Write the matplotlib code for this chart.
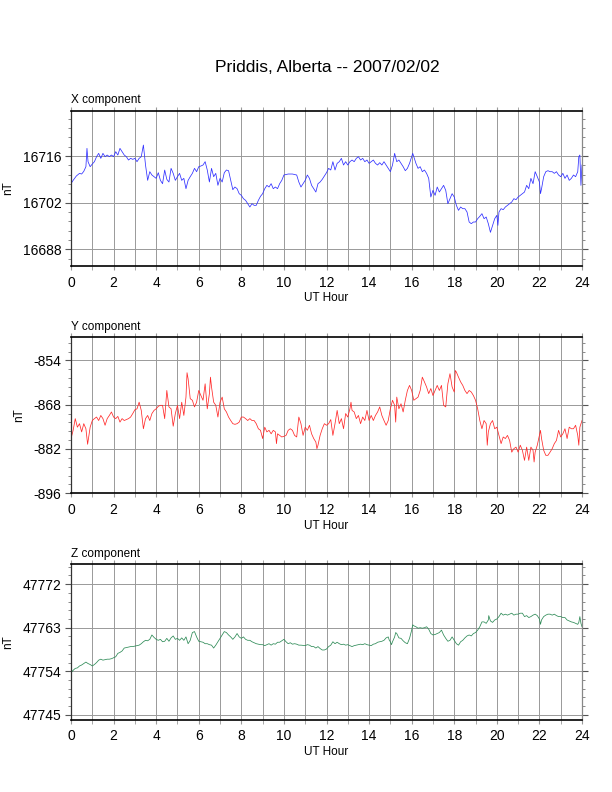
import matplotlib
matplotlib.use("Agg")
import matplotlib.pyplot as plt
from matplotlib.ticker import MultipleLocator, FixedLocator, AutoMinorLocator

plt.rcParams['font.family'] = ['Liberation Sans', 'DejaVu Sans']
plt.rcParams['axes.unicode_minus'] = False

title = "Priddis, Alberta -- 2007/02/02"

x_hours = [0, 0.1, 0.25, 0.4, 0.5, 0.6, 0.7, 0.75, 0.8, 0.9, 1.0, 1.1, 1.2, 1.3, 1.4, 1.5, 1.6, 1.7, 1.8, 1.9,
           2.0, 2.1, 2.2, 2.3, 2.4, 2.5, 2.6, 2.7, 2.8, 2.9, 3.0, 3.1, 3.2, 3.3, 3.4, 3.5, 3.6, 3.7, 3.8, 3.9,
           4.0, 4.1, 4.2, 4.3, 4.4, 4.5, 4.6, 4.7, 4.8, 4.9, 5.0, 5.1, 5.2, 5.3, 5.4, 5.5, 5.6, 5.7, 5.8, 5.9,
           6.0, 6.1, 6.2, 6.3, 6.4, 6.5, 6.6, 6.7, 6.8, 6.9, 7.0, 7.1, 7.2, 7.3, 7.4, 7.5, 7.6, 7.7, 7.8, 7.9,
           8.0, 8.1, 8.2, 8.3, 8.4, 8.5, 8.6, 8.7, 8.8, 8.9, 9.0, 9.1, 9.2, 9.3, 9.4, 9.5, 9.6, 9.7, 9.8, 9.9,
           10.0, 10.2, 10.4, 10.6, 10.7, 10.8, 11.0, 11.1, 11.2, 11.3, 11.4, 11.5, 11.6, 11.7, 11.8, 11.9,
           12.0, 12.1, 12.2, 12.3, 12.4, 12.5, 12.6, 12.7, 12.8, 12.9, 13.0, 13.1, 13.2, 13.3, 13.4, 13.5, 13.6, 13.7, 13.8, 13.9,
           14.0, 14.1, 14.2, 14.3, 14.4, 14.5, 14.6, 14.7, 14.8, 14.9, 15.0, 15.1, 15.2, 15.3, 15.4, 15.5, 15.6, 15.7, 15.8, 15.9,
           16.0, 16.05, 16.2, 16.3, 16.4, 16.5, 16.6, 16.7, 16.8, 16.9, 17.0, 17.1, 17.2, 17.3, 17.4, 17.5, 17.6, 17.7, 17.8, 17.9,
           18.0, 18.1, 18.2, 18.3, 18.4, 18.5, 18.6, 18.7, 18.8, 18.9, 19.0, 19.1, 19.2, 19.3, 19.4, 19.5, 19.6, 19.7, 19.8, 19.9,
           20.0, 20.05, 20.1, 20.2, 20.3, 20.4, 20.5, 20.6, 20.7, 20.8, 20.9, 21.0, 21.1, 21.2, 21.3, 21.4, 21.5, 21.6, 21.7, 21.8, 21.9,
           22.0, 22.05, 22.1, 22.2, 22.3, 22.4, 22.5, 22.6, 22.7, 22.8, 22.9, 23.0, 23.1, 23.2, 23.3, 23.4, 23.5, 23.6, 23.7, 23.8,
           23.85, 23.9, 23.95, 24.0]
x_values = [16707.7, 16708.7, 16710.0, 16710.8, 16710.6, 16711.4, 16712.8, 16718.3, 16714.3, 16712.8, 16713.6, 16714.3,
            16715.8, 16716.8, 16715.3, 16716.8, 16715.8, 16716.3, 16715.8, 16716.3,
            16715.8, 16717.3, 16716.3, 16718.3, 16717.3, 16716.3, 16715.8, 16714.8, 16715.3, 16715.0,
            16715.3, 16714.3, 16715.3, 16715.8, 16719.3, 16713.3, 16708.7, 16711.3, 16710.3, 16709.8,
            16709.3, 16711.0, 16708.7, 16707.7, 16711.8, 16709.0, 16708.2, 16712.3, 16710.8, 16708.7,
            16709.8, 16710.8, 16708.7, 16709.3, 16706.2, 16708.7, 16709.8, 16710.8, 16712.3, 16711.3,
            16712.8, 16713.0, 16713.3, 16714.3, 16711.8, 16708.2, 16712.3, 16709.8, 16710.8, 16707.2,
            16709.3, 16708.2, 16711.0, 16711.8, 16711.6, 16708.7, 16705.9, 16706.7, 16706.2, 16704.7,
            16704.2, 16703.2, 16702.7, 16701.7, 16700.7, 16701.7, 16701.2, 16701.2, 16702.7, 16703.9,
            16704.7, 16706.2, 16707.2, 16706.7, 16707.7, 16706.2, 16706.7, 16706.2, 16707.7, 16708.7,
            16710.3, 16710.6, 16710.6, 16710.3, 16708.2, 16706.7, 16708.7, 16710.3, 16709.3, 16707.2, 16706.2, 16705.2,
            16707.7, 16708.2, 16709.0, 16710.0,
            16711.0, 16712.3, 16711.8, 16714.3, 16711.8, 16713.8, 16714.3, 16715.3, 16713.3, 16714.3,
            16713.3, 16714.3, 16714.8, 16714.3, 16715.3, 16715.8, 16714.8, 16715.3, 16714.3, 16714.8,
            16713.8, 16714.3, 16714.8, 16713.8, 16713.3, 16714.0, 16713.3, 16714.3, 16713.3, 16712.3,
            16711.3, 16713.3, 16716.8, 16714.3, 16714.8, 16713.8, 16712.8, 16711.6, 16712.3, 16713.8,
            16715.8, 16716.8, 16713.8, 16712.3, 16712.8, 16711.3, 16711.8, 16710.8, 16709.3, 16703.7,
            16705.7, 16704.2, 16706.7, 16705.2, 16706.2, 16707.2, 16705.7, 16701.7, 16703.2, 16704.7,
            16703.7, 16701.2, 16699.7, 16700.7, 16700.2, 16700.2, 16699.2, 16696.2, 16695.7, 16696.2,
            16696.2, 16697.2, 16697.9, 16698.7, 16697.2, 16697.7, 16695.7, 16693.1, 16695.2, 16697.2,
            16698.2, 16695.2, 16699.2, 16700.2, 16699.9, 16700.7, 16701.2, 16701.7, 16702.2, 16703.2, 16702.9,
            16703.7, 16704.2, 16704.7, 16705.2, 16707.2, 16706.2, 16709.3, 16707.7, 16711.3, 16709.8,
            16708.2, 16704.7, 16706.2, 16709.8, 16711.3, 16711.6, 16711.3, 16711.3, 16710.8, 16711.3,
            16710.3, 16709.8, 16710.8, 16709.3, 16710.3, 16708.7, 16709.3, 16710.3, 16709.8, 16711.3,
            16715.8, 16716.3, 16707.2, 16713.3]

y_hours = [0, 0.1, 0.2, 0.3, 0.4, 0.5, 0.6, 0.7, 0.78, 0.9, 1.0, 1.1, 1.2, 1.3, 1.4, 1.5, 1.6, 1.7, 1.8, 1.9,
           2.0, 2.1, 2.2, 2.3, 2.4, 2.5, 2.6, 2.7, 2.8, 2.9, 3.0, 3.1, 3.2, 3.3, 3.4, 3.5, 3.6, 3.7, 3.8, 3.9,
           4.0, 4.1, 4.2, 4.3, 4.4, 4.5, 4.6, 4.7, 4.8, 4.9, 5.0, 5.1, 5.2, 5.3, 5.4, 5.45, 5.5, 5.6, 5.7, 5.8, 5.9,
           6.0, 6.1, 6.2, 6.3, 6.4, 6.5, 6.55, 6.6, 6.7, 6.8, 6.9, 7.0, 7.1, 7.2, 7.3, 7.4, 7.5, 7.6, 7.7, 7.8, 7.9,
           8.0, 8.1, 8.2, 8.3, 8.4, 8.5, 8.6, 8.7, 8.8, 8.9, 9.0, 9.1, 9.2, 9.3, 9.4, 9.5, 9.6, 9.65, 9.7, 9.8, 9.9,
           10.0, 10.1, 10.2, 10.3, 10.4, 10.5, 10.6, 10.7, 10.8, 10.9, 11.0, 11.1, 11.2, 11.3, 11.4, 11.5, 11.55, 11.6,
           11.7, 11.8, 11.9, 12.0, 12.1, 12.2, 12.3, 12.4, 12.5, 12.6, 12.7, 12.8, 12.9, 13.0, 13.1, 13.15, 13.2, 13.3,
           13.4, 13.5, 13.6, 13.7, 13.8, 13.9, 14.0, 14.1, 14.2, 14.3, 14.4, 14.5, 14.6, 14.7, 14.8, 14.9,
           15.0, 15.1, 15.2, 15.25, 15.3, 15.4, 15.5, 15.6, 15.7, 15.8, 15.9, 16.0, 16.1, 16.2, 16.3, 16.4, 16.5,
           16.6, 16.7, 16.8, 16.9, 17.0, 17.1, 17.2, 17.3, 17.4, 17.5, 17.6, 17.7, 17.8, 17.9, 18.0, 18.05, 18.1,
           18.2, 18.3, 18.4, 18.5, 18.6, 18.7, 18.8, 18.9, 19.0, 19.1, 19.2, 19.3, 19.4, 19.5, 19.55, 19.6, 19.7,
           19.8, 19.9, 20.0, 20.1, 20.2, 20.3, 20.4, 20.5, 20.6, 20.7, 20.8, 20.9, 21.0, 21.1, 21.2, 21.3, 21.4,
           21.5, 21.6, 21.7, 21.75, 21.8, 21.9, 22.0, 22.05, 22.1, 22.2, 22.3, 22.4, 22.5, 22.6, 22.7, 22.8, 22.9,
           23.0, 23.1, 23.2, 23.3, 23.4, 23.5, 23.6, 23.7, 23.8, 23.85, 23.9, 24.0]
y_values = [-878.7, -876.1, -872.4, -875.1, -874.0, -876.6, -874.0, -875.6, -880.5, -875.1, -873.0, -872.4,
            -871.9, -873.0, -871.4, -872.4, -874.5, -872.4, -871.4, -870.3,
            -871.9, -872.4, -871.7, -873.5, -872.4, -873.0, -872.7, -872.4, -871.9, -870.8,
            -869.6, -869.3, -867.2, -869.8, -875.6, -872.4, -871.4, -873.0, -870.8, -869.8,
            -869.3, -868.5, -868.2, -868.2, -872.4, -863.5, -868.7, -869.3, -874.8, -870.8,
            -868.2, -872.4, -867.2, -871.4, -865.6, -857.9, -859.8, -866.1, -866.6, -868.7, -867.2,
            -863.5, -865.1, -866.6, -861.4, -869.3, -864.5, -859.3, -862.4, -867.2, -868.2, -871.9,
            -867.2, -865.6, -869.3, -870.3, -871.9, -873.0, -874.0, -874.2, -874.0, -873.5,
            -871.9, -871.9, -872.4, -873.0, -872.4, -873.0, -873.0, -874.0, -875.6, -876.1,
            -878.7, -875.1, -876.6, -876.1, -877.2, -876.1, -876.6, -880.3, -877.2, -877.7, -878.2,
            -878.0, -877.7, -876.1, -875.6, -876.1, -877.7, -878.2, -871.9, -874.0, -877.7,
            -875.1, -876.1, -874.5, -877.2, -878.7, -879.8, -881.9, -880.8,
            -877.7, -875.6, -874.0, -874.5, -874.0, -872.7, -877.7, -874.0, -869.8, -874.0,
            -872.4, -875.6, -870.8, -871.9, -869.3, -867.2, -869.8, -870.3,
            -872.4, -871.4, -874.0, -871.9, -873.0, -869.8, -873.0, -871.4, -873.0, -871.4,
            -870.3, -868.7, -871.4, -873.0, -874.5, -873.0,
            -869.3, -866.6, -868.2, -873.5, -865.6, -869.3, -867.7, -870.3, -866.6, -863.5,
            -861.9, -863.5, -866.6, -866.1, -865.6, -863.5, -859.3,
            -860.8, -862.4, -864.5, -862.9, -865.1, -863.5, -861.9, -863.5, -861.9, -868.2,
            -868.7, -861.4, -858.2, -862.4, -864.0, -857.2, -857.7,
            -859.3, -860.8, -861.9, -863.5, -864.5, -863.5, -864.0, -865.1, -866.6, -869.3,
            -873.0, -875.6, -873.0, -874.0, -880.8, -876.6, -874.0,
            -873.0, -875.6, -875.1, -877.7, -880.3, -878.2, -878.7, -877.7, -879.3, -883.0,
            -881.9, -881.4, -883.0, -880.8, -882.4, -885.6, -881.4,
            -885.6, -881.4, -882.4, -886.1, -883.0, -880.8, -877.7, -876.1, -878.7, -882.4,
            -884.0, -884.0, -883.0, -881.9, -880.3, -879.3, -876.1,
            -878.2, -877.2, -875.6, -878.7, -875.1, -875.6, -875.6, -874.5, -877.7, -880.8, -875.1, -873.0]

z_hours = [0, 0.05, 0.1, 0.2, 0.3, 0.4, 0.5, 0.6, 0.7, 0.8, 0.9, 1.0, 1.1, 1.2, 1.3, 1.4, 1.5, 1.6, 1.7, 1.8, 1.9,
           2.0, 2.1, 2.2, 2.3, 2.4, 2.5, 2.6, 2.7, 2.8, 2.9, 3.0, 3.1, 3.2, 3.3, 3.4, 3.5, 3.6, 3.7, 3.8, 3.9,
           4.0, 4.1, 4.2, 4.3, 4.4, 4.5, 4.6, 4.7, 4.8, 4.9, 5.0, 5.1, 5.2, 5.3, 5.4, 5.5, 5.6, 5.7, 5.8, 5.9,
           6.0, 6.1, 6.2, 6.3, 6.4, 6.5, 6.6, 6.7, 6.8, 6.9, 7.0, 7.1, 7.2, 7.3, 7.4, 7.5, 7.6, 7.7, 7.8, 7.9,
           8.0, 8.1, 8.2, 8.3, 8.4, 8.5, 8.6, 8.7, 8.8, 8.9, 9.0, 9.1, 9.2, 9.3, 9.4, 9.5, 9.6, 9.7, 9.8, 9.9,
           10.0, 10.1, 10.2, 10.3, 10.4, 10.5, 10.6, 10.7, 10.8, 11.0, 11.1, 11.2, 11.3, 11.4, 11.5, 11.6, 11.7, 11.8, 11.9,
           12.0, 12.1, 12.2, 12.3, 12.4, 12.5, 12.6, 12.7, 12.8, 12.9, 13.0, 13.1, 13.2, 13.3, 13.4, 13.5, 13.6, 13.7, 13.8, 13.9,
           14.0, 14.1, 14.2, 14.3, 14.4, 14.5, 14.6, 14.7, 14.8, 14.9, 14.95, 15.0, 15.05, 15.1, 15.2, 15.25, 15.3, 15.4,
           15.5, 15.6, 15.7, 15.8, 15.9, 16.0, 16.05, 16.1, 16.2, 16.3, 16.4, 16.5, 16.6, 16.7, 16.8, 16.9,
           17.0, 17.1, 17.2, 17.3, 17.4, 17.5, 17.6, 17.7, 17.8, 17.9, 18.0, 18.1, 18.2, 18.3, 18.4, 18.5, 18.6, 18.7, 18.8, 18.9,
           19.0, 19.1, 19.2, 19.3, 19.4, 19.5, 19.6, 19.62, 19.7, 19.8, 19.9, 20.0, 20.1, 20.2, 20.3, 20.4, 20.5, 20.6, 20.7,
           20.8, 20.9, 21.0, 21.1, 21.2, 21.3, 21.4, 21.5, 21.6, 21.7, 21.8, 21.9, 22.0, 22.05, 22.1, 22.2, 22.3, 22.4,
           22.5, 22.6, 22.7, 22.8, 22.9, 23.0, 23.1, 23.2, 23.3, 23.4, 23.5, 23.6, 23.7, 23.8, 23.85, 23.9, 23.95, 24.0]
z_values = [47754.9, 47753.9, 47754.2, 47754.6, 47754.7, 47755.1, 47755.3, 47755.6, 47755.9, 47755.6, 47755.4,
            47755.1, 47755.4, 47755.8, 47756.3, 47756.5, 47756.3, 47756.4, 47756.5, 47756.5, 47756.6,
            47756.8, 47757.0, 47757.7, 47757.9, 47758.2, 47758.8, 47758.9, 47759.0, 47759.1, 47759.1,
            47759.2, 47759.3, 47759.4, 47759.7, 47760.1, 47760.4, 47760.3, 47760.6, 47761.5, 47761.0,
            47760.6, 47760.4, 47760.6, 47760.1, 47760.2, 47760.8, 47760.2, 47760.9, 47761.3, 47760.6,
            47760.8, 47760.4, 47760.9, 47760.4, 47761.1, 47759.7, 47760.4, 47762.0, 47762.2, 47761.1,
            47760.2, 47760.1, 47760.0, 47759.7, 47759.7, 47759.5, 47759.4, 47758.8, 47759.4, 47760.1,
            47760.8, 47761.5, 47762.2, 47762.0, 47761.5, 47761.1, 47760.6, 47761.1, 47761.8, 47761.1,
            47760.8, 47761.1, 47760.6, 47760.4, 47760.4, 47760.1, 47759.9, 47759.7, 47759.6, 47759.5,
            47759.5, 47759.3, 47759.5, 47759.7, 47759.4, 47759.7, 47759.6, 47760.0, 47760.0, 47760.3,
            47760.6, 47760.1, 47759.7, 47759.9, 47759.6, 47759.7, 47759.6, 47759.4, 47759.4, 47759.3,
            47759.5, 47759.4, 47759.1, 47759.1, 47758.8, 47759.1, 47758.7, 47758.4, 47758.4,
            47758.6, 47759.1, 47759.4, 47760.1, 47759.7, 47760.0, 47759.7, 47759.5, 47759.6, 47759.4,
            47759.5, 47759.3, 47759.1, 47759.3, 47759.4, 47759.5, 47759.6, 47759.5, 47759.7, 47759.5,
            47759.4, 47759.3, 47759.6, 47759.7, 47760.0, 47760.1, 47760.2, 47760.4, 47760.9, 47761.1,
            47760.4, 47760.1, 47759.5, 47760.1, 47761.1, 47762.0, 47761.8, 47760.9,
            47760.8, 47760.3, 47759.9, 47759.7, 47760.8, 47762.5, 47763.6, 47763.4, 47763.2, 47762.9,
            47763.0, 47762.9, 47763.0, 47763.2, 47762.7, 47761.8,
            47761.5, 47761.6, 47761.8, 47762.0, 47762.5, 47761.5, 47760.8, 47760.2, 47760.4, 47761.1,
            47760.4, 47759.7, 47759.4, 47760.1, 47760.4, 47760.9, 47761.3, 47761.5, 47761.3, 47761.8,
            47762.0, 47762.5, 47763.2, 47764.2, 47764.2, 47763.9, 47764.6, 47765.5, 47764.4, 47764.1,
            47764.6, 47764.8, 47765.3, 47766.0, 47765.6, 47765.8, 47765.6, 47765.8, 47766.0,
            47765.6, 47765.8, 47765.8, 47766.0, 47766.0, 47765.3, 47765.5, 47765.1, 47765.3, 47765.6,
            47765.8, 47765.5, 47764.8, 47763.7, 47764.6, 47765.3, 47765.6, 47765.8,
            47765.8, 47765.6, 47765.8, 47765.5, 47765.3, 47765.3, 47765.1, 47765.1, 47764.6, 47764.4,
            47764.2, 47764.1, 47763.9, 47763.7, 47764.1, 47765.3, 47763.9, 47763.2]

panels = [
    ("X component", x_hours, x_values, "#3030ff", (16683.0, 16729.6), [16688, 16702, 16716]),
    ("Y component", y_hours, y_values, "#ff2a2a", (-896.0, -846.7), [-896, -882, -868, -854]),
    ("Z component", z_hours, z_values, "#2e8b57", (47744.0, 47776.1), [47745, 47754, 47763, 47772]),
]

fig = plt.figure(figsize=(6.12, 7.92), dpi=100)
W, H = 612.0, 792.0
boxes = [(71, 110.7, 582, 266.0), (71, 337.3, 582, 493.3), (71, 564.3, 582, 719.7)]

fig.text(327 / W, 1 - 68 / H, title, ha='center', va='center', fontsize=12.5)

grid_col = '#999999'
for (label, hrs, vals, col, ylim, yt), (l, t, r, b) in zip(panels, boxes):
    ax = fig.add_axes([l / W, 1 - b / H, (r - l) / W, (b - t) / H])
    ax.plot(hrs, vals, color=col, lw=0.55)
    ax.set_xlim(0, 24)
    ax.set_ylim(*ylim)
    ax.xaxis.set_major_locator(MultipleLocator(2))
    ax.xaxis.set_minor_locator(MultipleLocator(1))
    ax.yaxis.set_major_locator(FixedLocator(yt))
    ax.yaxis.set_minor_locator(AutoMinorLocator(5))
    ax.grid(True, which='major', axis='y', color=grid_col, lw=0.7)
    ax.grid(True, which='both', axis='x', color=grid_col, lw=0.7)
    ax.tick_params(axis='x', which='both', direction='out', length=3, color=grid_col,
                   top=True, bottom=True, labelsize=10, pad=4)
    ax.tick_params(axis='y', which='major', direction='out', length=4, color='#555555',
                   left=True, right=True, labelsize=10, pad=3)
    ax.tick_params(axis='y', which='minor', direction='out', length=2.5, color='#777777',
                   left=True, right=True)
    for s in ('top', 'bottom'):
        ax.spines[s].set_linewidth(1.2)
        ax.spines[s].set_color('black')
    ax.spines['left'].set_linewidth(0.9)
    ax.spines['left'].set_color('#333333')
    ax.spines['right'].set_linewidth(0.9)
    ax.spines['right'].set_color('#888888')
    ax.set_xlabel("UT Hour", fontsize=8.5, labelpad=2)
    ax.set_ylabel("nT", fontsize=8.5, labelpad=6)
    ax.text(0, 1.03, label, transform=ax.transAxes, ha='left', va='bottom', fontsize=8.5)

fig.savefig("out.png", dpi=100)
